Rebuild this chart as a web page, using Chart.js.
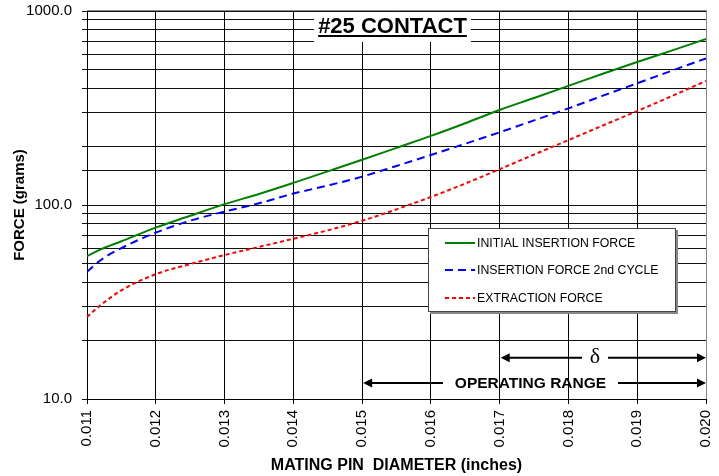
<!DOCTYPE html>
<html>
<head>
<meta charset="utf-8">
<script src="https://cdn.jsdelivr.net/npm/chart.js@4"></script>
<style>
html,body{margin:0;padding:0;background:#fff;}
#wrap{width:719px;height:476px;position:relative;}
</style>
</head>
<body>
<div id="wrap"><canvas id="c" width="719" height="476"></canvas></div>
<script>
const pinDiameter = [0.011, 0.0112, 0.0115, 0.012, 0.0125, 0.013, 0.0135, 0.014, 0.0145, 0.015, 0.0155, 0.016, 0.0165, 0.017, 0.0175, 0.018, 0.0185, 0.019, 0.0195, 0.020];
const initialInsertion = [54.5, 59, 65, 76.5, 88, 101, 114, 130, 149, 171, 197, 227, 264, 309, 356, 411, 475, 546, 625, 717];
const secondInsertion = [45.3, 52, 60, 72, 83, 92.5, 102, 114.5, 126, 140, 159, 181, 207, 237, 273, 315, 366, 424, 492, 570];
const extraction = [26.5, 30.5, 36.3, 44, 49.6, 55.2, 60.8, 67, 74, 83, 95, 110, 129, 153, 182, 216, 257, 305, 364, 436];
const seriesNames = ['INITIAL INSERTION FORCE', 'INSERTION FORCE 2nd CYCLE', 'EXTRACTION FORCE'];
const chartTitle = '#25 CONTACT';
const xTitle = 'MATING PIN  DIAMETER (inches)';
const yTitle = 'FORCE (grams)';
const deltaRange = [0.017, 0.020];
const deltaForce = 16.3;
const operatingRange = [0.015, 0.020];
const operatingForce = 12.1;

const pts = arr => arr.map((v, i) => ({x: pinDiameter[i], y: v}));

function arrow(ctx, x1, x2, y, gapL, gapR) {
  ctx.save();
  ctx.strokeStyle = '#000';
  ctx.fillStyle = '#000';
  ctx.lineWidth = 2;
  const ah = 9, aw = 4.5;
  ctx.beginPath();
  ctx.moveTo(x1 + ah - 1, y); ctx.lineTo(gapL, y);
  ctx.moveTo(gapR, y); ctx.lineTo(x2 - ah + 1, y);
  ctx.stroke();
  ctx.beginPath();
  ctx.moveTo(x1, y); ctx.lineTo(x1 + ah, y - aw); ctx.lineTo(x1 + ah, y + aw); ctx.closePath(); ctx.fill();
  ctx.beginPath();
  ctx.moveTo(x2, y); ctx.lineTo(x2 - ah, y - aw); ctx.lineTo(x2 - ah, y + aw); ctx.closePath(); ctx.fill();
  ctx.restore();
}

const overlay = {
  id: 'overlay',
  afterDraw(chart) {
    const ctx = chart.ctx;
    const xs = chart.scales.x, ys = chart.scales.y;
    const area = chart.chartArea;
    // title box
    ctx.save();
    ctx.font = 'bold 22px "Liberation Sans", Arial, sans-serif';
    const tw = ctx.measureText(chartTitle).width;
    const cx = 392.5;
    ctx.fillStyle = '#fff';
    ctx.fillRect(cx - tw / 2 - 4, area.top + 1, tw + 8, 30);
    ctx.fillStyle = '#000';
    ctx.textAlign = 'center';
    ctx.textBaseline = 'alphabetic';
    ctx.fillText(chartTitle, cx, 33);
    ctx.fillRect(cx - tw / 2, 35, tw, 2);
    ctx.restore();

    // legend
    ctx.save();
    const lx = 428, ly = 228, lw = 248, lh = 84;
    ctx.fillStyle = '#888';
    ctx.fillRect(lx + 2, ly + 2, lw, lh);
    ctx.fillStyle = '#fff';
    ctx.fillRect(lx, ly, lw, lh);
    ctx.strokeStyle = '#444';
    ctx.lineWidth = 1;
    ctx.strokeRect(lx + 0.5, ly + 0.5, lw - 1, lh - 1);
    ctx.font = '12.3px "Liberation Sans", Arial, sans-serif';
    ctx.textBaseline = 'middle';
    ctx.textAlign = 'left';
    const rows = [243, 270, 298];
    chart.data.datasets.forEach((ds, i) => {
      ctx.beginPath();
      ctx.strokeStyle = ds.borderColor;
      ctx.lineWidth = 2;
      ctx.setLineDash(ds.borderDash || []);
      ctx.moveTo(445, rows[i]); ctx.lineTo(475, rows[i]);
      ctx.stroke();
      ctx.setLineDash([]);
      ctx.fillStyle = '#000';
      ctx.fillText(ds.label, 477, rows[i] + 0.5);
    });
    ctx.restore();

    // delta arrow
    const dy = ys.getPixelForValue(deltaForce);
    const dx1 = xs.getPixelForValue(deltaRange[0]), dx2 = xs.getPixelForValue(deltaRange[1]);
    arrow(ctx, dx1 + 1, dx2, dy, 582, 608);
    ctx.save();
    ctx.font = '22px "Liberation Serif", "Times New Roman", serif';
    ctx.textAlign = 'center'; ctx.textBaseline = 'middle';
    ctx.fillStyle = '#000';
    ctx.fillText('δ', 595, dy - 1);
    ctx.restore();

    // operating range arrow
    const oy = ys.getPixelForValue(operatingForce);
    const ox1 = xs.getPixelForValue(operatingRange[0]), ox2 = xs.getPixelForValue(operatingRange[1]);
    arrow(ctx, ox1 + 1, ox2, oy, 443, 618);
    ctx.save();
    ctx.font = 'bold 15.5px "Liberation Sans", Arial, sans-serif';
    ctx.textAlign = 'center'; ctx.textBaseline = 'middle';
    ctx.fillStyle = '#000';
    ctx.fillText('OPERATING RANGE', 530.5, oy + 1);
    ctx.restore();

    // plot border (top/right)
    ctx.save();
    ctx.strokeStyle = '#888';
    ctx.lineWidth = 1;
    ctx.beginPath();
    ctx.moveTo(area.left, area.top - 0.5); ctx.lineTo(area.right + 0.5, area.top - 0.5); ctx.lineTo(area.right + 0.5, area.bottom);
    ctx.stroke();
    ctx.restore();
  }
};

new Chart(document.getElementById('c'), {
  type: 'line',
  data: {
    datasets: [
      {label: seriesNames[0], data: pts(initialInsertion), borderColor: '#008000', borderWidth: 2, pointRadius: 0, cubicInterpolationMode: 'monotone', fill: false},
      {label: seriesNames[1], data: pts(secondInsertion), borderColor: '#0000ff', borderWidth: 2, borderDash: [8, 5], pointRadius: 0, cubicInterpolationMode: 'monotone', fill: false},
      {label: seriesNames[2], data: pts(extraction), borderColor: '#ff0000', borderWidth: 2, borderDash: [4, 3], pointRadius: 0, cubicInterpolationMode: 'monotone', fill: false}
    ]
  },
  options: {
    responsive: false,
    animation: false,
    events: [],
    layout: {padding: {left: 0, right: 13, top: 11, bottom: 0}},
    plugins: {legend: {display: false}, tooltip: {enabled: false}, title: {display: false}},
    scales: {
      x: {
        type: 'linear', min: 0.011, max: 0.020,
        afterFit: s => { s.height = 77; s.paddingLeft = 0; s.paddingRight = 0; },
        ticks: {stepSize: 0.001, minRotation: 90, maxRotation: 90, autoSkip: false, padding: 6, color: '#000',
          font: {family: '"Liberation Sans", Arial, sans-serif', size: 15},
          callback: v => Number(v).toFixed(3)},
        grid: {color: '#000', lineWidth: 1, tickLength: 5, drawTicks: true},
        border: {color: '#000', width: 1},
        title: {display: true, text: xTitle, color: '#000', padding: {top: 0, bottom: 1},
          font: {family: '"Liberation Sans", Arial, sans-serif', size: 16, weight: 'bold'}}
      },
      y: {
        type: 'logarithmic', min: 10, max: 1000,
        afterFit: s => { s.width = 87; s.paddingTop = 0; s.paddingBottom = 0; },
        ticks: {autoSkip: false, padding: 10, color: '#000',
          font: {family: '"Liberation Sans", Arial, sans-serif', size: 15},
          callback: v => { const l = Math.log10(v); return Math.abs(l - Math.round(l)) < 1e-9 ? Number(v).toFixed(1) : ''; }},
        grid: {color: '#111', lineWidth: 1, tickLength: 5, drawTicks: true},
        border: {color: '#000', width: 1},
        title: {display: true, text: yTitle, color: '#000', padding: {top: 11, bottom: 0},
          font: {family: '"Liberation Sans", Arial, sans-serif', size: 15, weight: 'bold'}}
      }
    }
  },
  plugins: [overlay]
});
</script>
</body>
</html>
